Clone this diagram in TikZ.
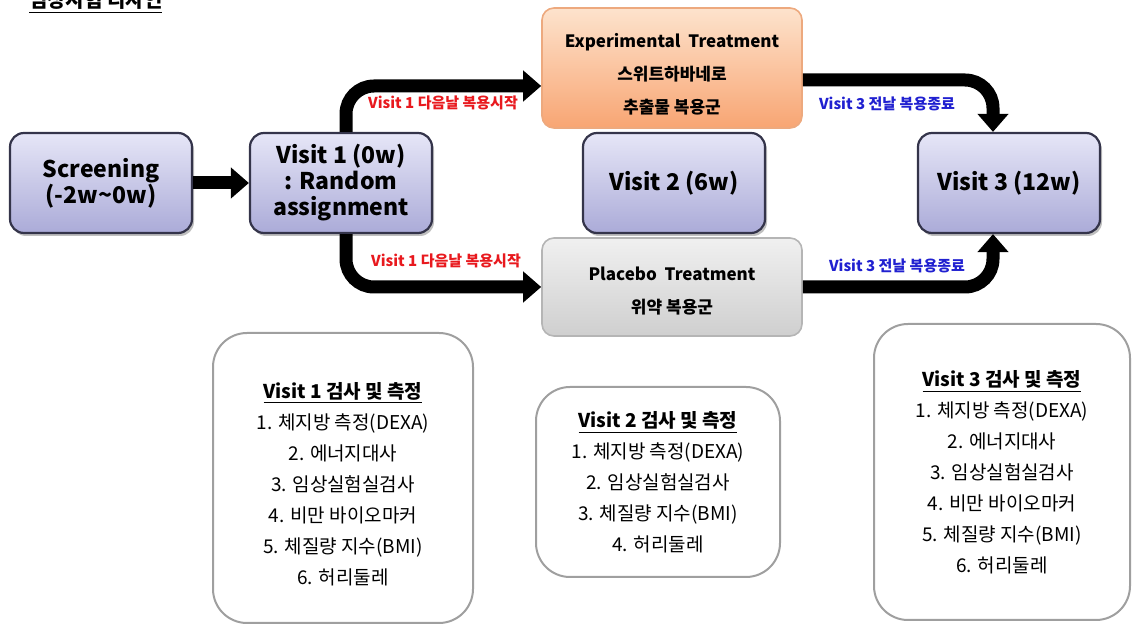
\documentclass[tikz,border=0pt]{standalone}
\usepackage{fontspec}
\setmainfont{Noto Sans CJK KR}
\usepackage{xcolor}
\usetikzlibrary{arrows.meta,positioning,shadows}

\definecolor{lavtop}{HTML}{E6E6F7}
\definecolor{lavbot}{HTML}{ABABD8}
\definecolor{lavedge}{HTML}{34344A}
\definecolor{oratop}{HTML}{FDE3CD}
\definecolor{orabot}{HTML}{F8A573}
\definecolor{oraedge}{HTML}{EDA97E}
\definecolor{gratop}{HTML}{F0F0F0}
\definecolor{grabot}{HTML}{CFCFCF}
\definecolor{graedge}{HTML}{B5B5B5}
\definecolor{startred}{HTML}{E8191E}
\definecolor{endblue}{HTML}{2020D0}

\tikzset{
  visit/.style={draw=lavedge, line width=1.1pt, rounded corners=7pt,
    top color=lavtop, bottom color=lavbot, align=center,
    minimum width=91pt, minimum height=50pt,
    font=\fontsize{11.5}{13}\selectfont\bfseries,
    drop shadow={shadow xshift=1pt, shadow yshift=-1.5pt, opacity=0.5}},
  treat/.style={rounded corners=6pt, line width=0.8pt, align=center,
    minimum width=130pt, font=\fontsize{8.5}{16.5}\selectfont\bfseries},
  flow/.style={line width=6.5pt, rounded corners=14pt,
    -{Triangle[length=9pt,width=15pt]}},
  note/.style={font=\fontsize{7.5}{8}\selectfont\bfseries},
  exam/.style={draw=gray!75, line width=1pt, rounded corners=17pt,
    align=center, font=\fontsize{9.5}{15.5}\selectfont}
}

\begin{document}
\begin{tikzpicture}[x=0.5pt, y=-0.5pt]
\useasboundingbox (0,0) rectangle (1132,625);

% title, cut at the top edge
\node[anchor=base west, font=\fontsize{10}{12}\selectfont\bfseries] (title) at (22,8) {\underline{임상시험 디자인}};

% visits
\node[visit] (scr) at (101,183) {Screening\\(-2w\textasciitilde0w)};
\node[visit] (v1) at (341,183) {Visit 1 (0w)\\: Random\\assignment};
\node[visit] (v2) at (674,183) {Visit 2 (6w)};
\node[visit] (v3) at (1009,183) {Visit 3 (12w)};

% treatment arms
\node[treat, draw=oraedge, top color=oratop, bottom color=orabot, minimum height=60pt] (exp) at (672,68)
  {\rule{0pt}{13pt}Experimental\ \ Treatment\\스위트하바네로\\추출물 복용군};
\node[treat, draw=graedge, top color=gratop, bottom color=grabot, minimum height=49pt] (pla) at (672,287)
  {\rule{0pt}{11pt}Placebo\ \ Treatment\\위약 복용군};

% flow arrows
\draw[flow] (scr) -- (v1);
\draw[flow] ([xshift=2.5pt]v1.north) |- ([yshift=-9pt]exp.west);
\draw[flow] ([xshift=2.5pt]v1.south) |- (pla.west);
\draw[flow] ([yshift=-6pt]exp.east) -| ([xshift=-8pt]v3.north);
\draw[flow] (pla.east) -| ([xshift=-8pt]v3.south);

\node[note, text=startred] (s1) at (443,103) {Visit 1 다음날 복용시작};
\node[note, text=startred] (s2) at (446,261) {Visit 1 다음날 복용시작};
\node[note, text=endblue] (e1) at (887,104) {Visit 3 전날 복용종료};
\node[note, text=endblue] (e2) at (897,266) {Visit 3 전날 복용종료};

% exams at each visit
\node[exam, minimum width=130pt, minimum height=145pt] (ex1) at (343,478)
  {\textbf{\underline{\rule{0pt}{14pt}Visit 1 검사 및 측정}}\\1. 체지방 측정(DEXA)\\2. 에너지대사\\3. 임상실험실검사\\4. 비만 바이오마커\\5. 체질량 지수(BMI)\\6. 허리둘레};
\node[exam, minimum width=122pt, minimum height=95pt] (ex2) at (658,482)
  {\textbf{\underline{Visit 2 검사 및 측정}}\\1. 체지방 측정(DEXA)\\2. 임상실험실검사\\3. 체질량 지수(BMI)\\4. 허리둘레};
\node[exam, minimum width=128pt, minimum height=148pt] (ex3) at (1002,472)
  {\textbf{\underline{Visit 3 검사 및 측정}}\\1. 체지방 측정(DEXA)\\2. 에너지대사\\3. 임상실험실검사\\4. 비만 바이오마커\\5. 체질량 지수(BMI)\\6. 허리둘레};
\end{tikzpicture}
\end{document}
